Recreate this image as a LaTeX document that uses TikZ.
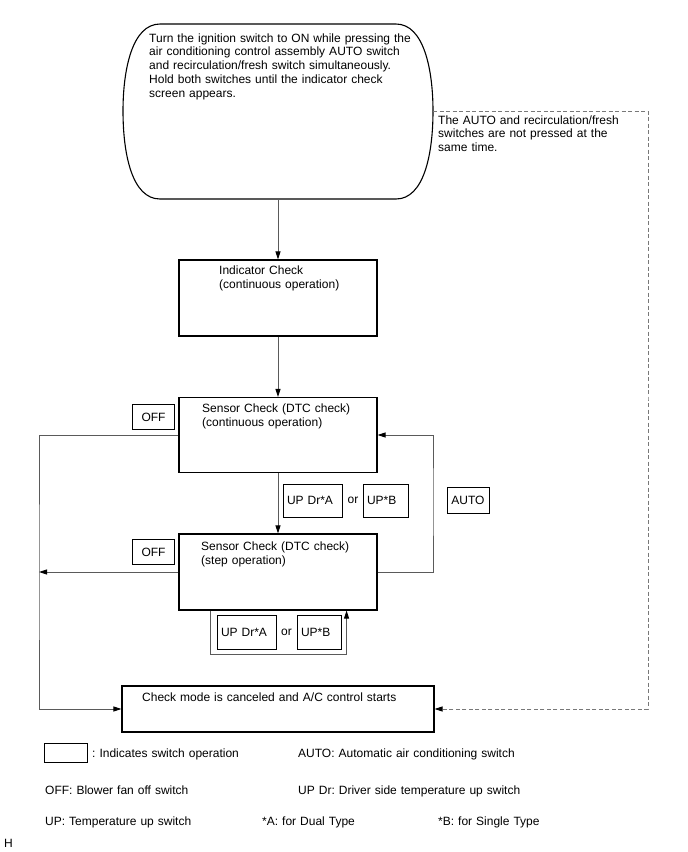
\documentclass[tikz,border=0pt]{standalone}
\usepackage{fontspec}
\setmainfont{Liberation Sans}
\usetikzlibrary{arrows.meta}
\definecolor{lineg}{RGB}{90,90,90}
\definecolor{dashg}{RGB}{120,120,120}
\frenchspacing
\begin{document}
\begin{tikzpicture}[x=1pt,y=-1pt,
  font=\fontsize{12pt}{13.75pt}\selectfont,
  box/.style={draw=black, line width=1.1pt, inner sep=0pt},
  sw/.style={draw=black, line width=0.9pt, inner sep=0pt},
  conn/.style={draw=lineg, line width=0.9pt},
  arr/.style={conn, -{Triangle[length=8pt,width=5pt,color=black]}},
  dasharr/.style={draw=dashg, line width=0.9pt, dash pattern=on 4pt off 2.5pt,
                  -{Triangle[length=8pt,width=5pt,color=black]}},
  txt/.style={inner sep=0pt, anchor=base west, align=left, text width=#1},
  txt/.default=300pt,
  plain/.style={inner sep=0pt}
]
\useasboundingbox (0,0) rectangle (688,852);

% start shape
\node[plain, minimum width=310pt, minimum height=176pt] (start) at (278,111) {};
\draw[box] (160,24) -- (396,24) .. controls (424,24) and (433,70) .. (433,111)
  .. controls (433,154) and (424,199) .. (396,199) -- (160,199)
  .. controls (132,199) and (123,154) .. (123,111)
  .. controls (123,70) and (132,24) .. (160,24) -- cycle;
\node[txt=290pt] (t0) at (149,42) {Turn the ignition switch to ON while pressing the\\
air conditioning control assembly AUTO switch\\
and recirculation/fresh switch simultaneously.\\
Hold both switches until the indicator check\\
screen appears.};

% main boxes
\node[box, minimum width=198pt, minimum height=76pt] (ind) at (278,298) {};
\node[txt=180pt, font=\fontsize{12pt}{14pt}\selectfont] (tind) at (219,274) {Indicator Check\\(continuous operation)};

\node[box, minimum width=198pt, minimum height=75pt] (sc) at (278,435) {};
\node[txt=180pt, font=\fontsize{12pt}{14pt}\selectfont] (tsc) at (202,412) {Sensor Check (DTC check)\\(continuous operation)};

\node[box, minimum width=198pt, minimum height=76pt] (ss) at (278,572) {};
\node[txt=180pt, font=\fontsize{12pt}{14pt}\selectfont] (tss) at (201,550) {Sensor Check (DTC check)\\(step operation)};

\node[box, minimum width=312pt, minimum height=46pt] (fin) at (278,709) {};
\node[txt] (tfin) at (142,701) {Check mode is canceled and A/C control starts};

% switch boxes
\node[sw, minimum width=42pt, minimum height=25pt] (off1) at (153.5,417) {OFF};
\node[sw, minimum width=42pt, minimum height=25pt] (off2) at (153.5,552) {OFF};
\node[sw, minimum width=59pt, minimum height=33pt, text width=51pt, align=left] (upa1) at (312.5,500.5) {UP Dr*A};
\node[plain] (or1) at (353,500) {or};
\node[sw, minimum width=45pt, minimum height=33pt, text width=37pt, align=left] (upb1) at (385.5,500.5) {UP*B};
\node[sw, minimum width=42pt, minimum height=26pt] (auto) at (468,500) {AUTO};
\node[sw, minimum width=59pt, minimum height=34pt, text width=51pt, align=left] (upa2) at (246.5,632) {UP Dr*A};
\node[plain] (or2) at (286.5,632) {or};
\node[sw, minimum width=44pt, minimum height=34pt, text width=36pt, align=left] (upb2) at (319,632) {UP*B};

% dashed label
\node[txt=220pt, font=\fontsize{12pt}{13.5pt}\selectfont] (tdash) at (438,124) {The AUTO and recirculation/fresh\\switches are not pressed at the\\same time.};

% connectors
\coordinate (lc) at (39,572);
\coordinate (rc) at (433,500);
\coordinate (dc) at (648,400);
\draw[arr] (start.south) -- (ind.north);
\draw[arr] (ind.south) -- (sc.north);
\draw[arr] (sc.south) -- (ss.north);
\draw[arr] (sc.west) -| (lc) |- (fin.west);
\draw[arr] (ss.west) -- (lc);
\draw[arr] (ss.east) -| (rc) |- (sc.east);
\draw[arr] ([xshift=32pt]ss.south west) -- ++(0,44) -| ([xshift=-31pt]ss.south east);
\draw[dasharr] (start.east) -| (dc) |- (fin.east);

% legend
\node[sw, minimum width=43pt, minimum height=19pt] (leg) at (65.5,752.5) {};
\node[txt] (l1) at (92,757) {: Indicates switch operation};
\node[txt] (l2) at (298,757) {AUTO: Automatic air conditioning switch};
\node[txt] (l3) at (45,794) {OFF: Blower fan off switch};
\node[txt] (l4) at (298,794) {UP Dr: Driver side temperature up switch};
\node[txt] (l5) at (45,825) {UP: Temperature up switch};
\node[txt] (l6) at (262,825) {*A: for Dual Type};
\node[txt] (l7) at (438,825) {*B: for Single Type};
\node[txt] (h) at (4,847) {H};
\end{tikzpicture}
\end{document}
